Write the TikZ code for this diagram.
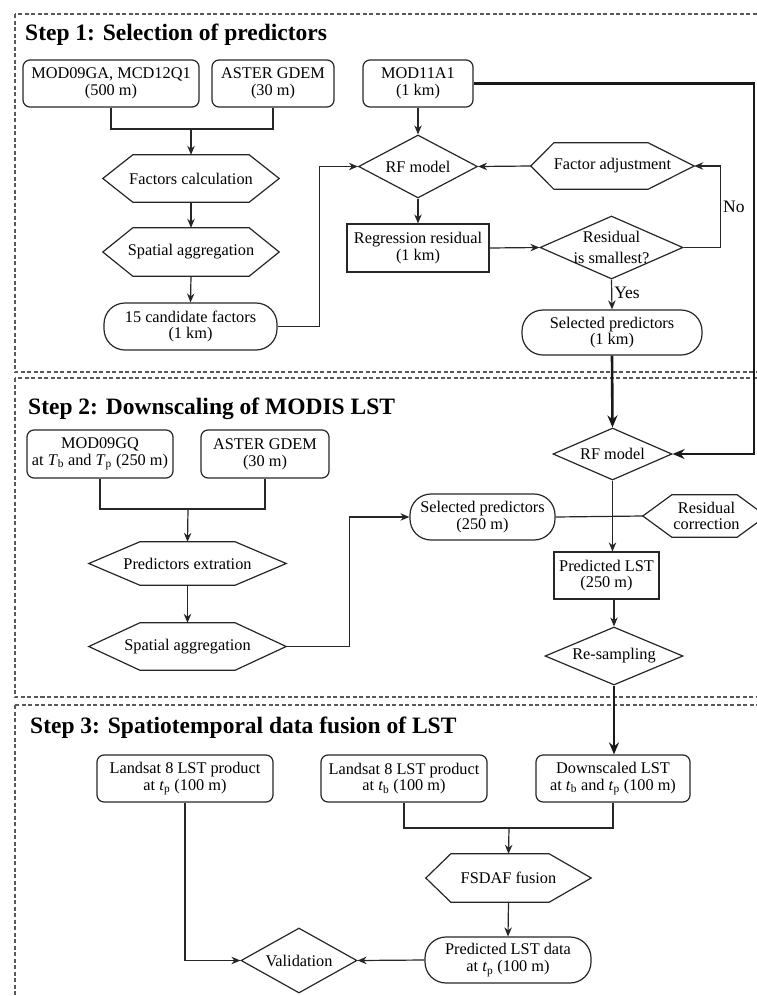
\documentclass[tikz,border=0pt]{standalone}
\usepackage{fontspec}
\setmainfont{Liberation Serif}
\usetikzlibrary{shapes.geometric,arrows.meta}
\newcommand\hexdraw[3]{\draw[ln] (#1.west) -- ([xshift=#2pt]#1.north west) -- ([xshift=-#3pt]#1.north east) -- (#1.east) -- ([xshift=-#3pt]#1.south east) -- ([xshift=#2pt]#1.south west) -- cycle;}
\begin{document}
\begin{tikzpicture}[x=1pt,y=-1pt,
  font=\fontsize{16.3}{16.8}\selectfont,
  ln/.style={line width=1.2pt, draw=black!85},
  arr/.style={ln, -{Stealth[length=9pt,width=7.5pt]}},
  tarr/.style={line width=2.6pt, draw=black!90, -{Stealth[length=12pt,width=10pt]}},
  rbox/.style={ln, draw, rectangle, rounded corners=7pt, align=center, inner sep=1pt},
  sbox/.style={ln, draw, rectangle, align=center, inner sep=1pt},
  stad/.style={ln, draw, rectangle, rounded corners=21pt, align=center, inner sep=1pt},
  hexn/.style={rectangle, align=center, inner sep=1pt},
  dia/.style={ln, draw, diamond, inner sep=0pt},
  ttl/.style={anchor=west, font=\fontsize{23.5}{26}\selectfont\bfseries, inner sep=0pt},
  lab/.style={font=\fontsize{17.5}{19}\selectfont, inner sep=2pt},
  frame/.style={draw=black!65, line width=1.2pt, dash pattern=on 4pt off 2.5pt}
]
\useasboundingbox (0,0) rectangle (757,996);

% frames
\draw[frame] (15,14) rectangle (759,372);
\draw[frame] (15,378) rectangle (759,697);
\draw[frame] (15,705) rectangle (759,1003);

% titles
\node[ttl] (t1) at (25,35) {Step 1: Selection of predictors};
\node[ttl] (t2) at (28,409) {Step 2: Downscaling of MODIS LST};
\node[ttl] (t3) at (30,728) {Step 3: Spatiotemporal data fusion of LST};

% ---------- Step 1 ----------
\node[rbox, minimum width=176pt, minimum height=47pt] (m09) at (111,83.5) {MOD09GA, MCD12Q1\\(500 m)};
\node[rbox, minimum width=122pt, minimum height=47pt] (ast1) at (273,83.5) {ASTER GDEM\\(30 m)};
\node[rbox, minimum width=110pt, minimum height=47pt] (m11) at (418,83.5) {MOD11A1\\(1 km)};
\node[hexn, minimum width=176pt, minimum height=47pt] (fc) at (191,178.5) {Factors calculation};
\hexdraw{fc}{30}{30}
\node[hexn, minimum width=176pt, minimum height=48pt] (sa1) at (191,252) {Spatial aggregation};
\hexdraw{sa1}{30}{30}
\node[stad, minimum width=173pt, minimum height=47pt] (cf) at (190.5,326.5) {15 candidate factors\\(1 km)};
\node[dia, minimum width=119pt, minimum height=63pt, label={center:RF model}] (rf1) at (418,166.5) {};
\node[hexn, minimum width=163pt, minimum height=46pt] (fa) at (612.5,166) {Factor adjustment};
\hexdraw{fa}{23}{46}
\node[sbox, minimum width=142pt, minimum height=48pt] (rr) at (418,248) {Regression residual\\(1 km)};
\node[dia, minimum width=143pt, minimum height=63pt, label={[align=center]center:Residual\\[4pt]is smallest?}] (rs) at (611.5,247.5) {};
\node[stad, minimum width=180pt, minimum height=45pt] (sp1) at (612,332.5) {Selected predictors\\(1 km)};

\coordinate (j1) at (191,129);
\draw[ln] (m09.south) |- (j1) -| (ast1.south);
\draw[arr] (j1) -- (fc.north);
\draw[arr] (fc.south) -- (sa1.north);
\draw[arr] (sa1.south) -- (cf.north);
\draw[arr] (cf.east) -- ++(42,0) |- (rf1.west);
\draw[arr] (m11.south) -- (rf1.north);
\draw[arr] (fa.west) -- (rf1.east);
\draw[arr] (rf1.south) -- (rr.north);
\draw[arr] (rr.east) -- (rs.west);
\draw[arr] (rs.east) -- ++(37,0) |- node[lab, pos=0.25, right] {No} (fa.east);
\draw[arr] (rs.south) -- node[lab, right, pos=0.45] {Yes} (sp1.north);

% ---------- Step 2 ----------
\node[rbox, minimum width=146pt, minimum height=48pt] (mgq) at (100,454) {MOD09GQ\\at \textit{T}\textsubscript{b} and \textit{T}\textsubscript{p} (250 m)};
\node[rbox, minimum width=128pt, minimum height=48pt] (ast2) at (265,454) {ASTER GDEM\\(30 m)};
\node[hexn, minimum width=197pt, minimum height=43pt] (pe) at (187.5,563.5) {Predictors extration};
\hexdraw{pe}{51}{51}
\node[hexn, minimum width=197pt, minimum height=47pt] (sa2) at (187.5,646.5) {Spatial aggregation};
\hexdraw{sa2}{51}{51}
\node[stad, minimum width=145pt, minimum height=46pt] (sp2) at (482.5,517) {Selected predictors\\(250 m)};
\node[dia, minimum width=119pt, minimum height=52pt, label={center:RF model}] (rf2) at (612.5,454) {};
\node[hexn, minimum width=123pt, minimum height=42pt] (rc) at (704.5,516) {\hspace*{4pt}Residual\\\hspace*{4pt}correction};
\hexdraw{rc}{29}{29}
\node[sbox, minimum width=105pt, minimum height=47pt] (pl) at (606.5,575.5) {Predicted LST\\(250 m)};
\node[dia, minimum width=138pt, minimum height=58pt, label={center:Re-sampling}] (re) at (614,656) {};

\draw[tarr] (m11.east) -- (754,83.5) |- (rf2.east);
\draw[tarr] (sp1.south) -- (rf2.north);
\coordinate (j2) at (188,509);
\draw[ln] (mgq.south) |- (j2) -| (ast2.south);
\draw[arr] (j2) -- (pe.north);
\draw[arr] (pe.south) -- (sa2.north);
\draw[arr] (sa2.east) -- ++(63,0) |- (sp2.west);
\draw[ln] (sp2.east) -- (rc.west);
\draw[arr] (rf2.south) -- (rf2.south |- pl.north);
\draw[arr] (re.north |- pl.south) -- (re.north);

% ---------- Step 3 ----------
\node[rbox, minimum width=176pt, minimum height=47pt] (lp) at (185,778.5) {Landsat 8 LST product\\at \textit{t}\textsubscript{p} (100 m)};
\node[rbox, minimum width=166pt, minimum height=47pt] (lb) at (404,778.5) {Landsat 8 LST product\\at \textit{t}\textsubscript{b} (100 m)};
\node[rbox, minimum width=154pt, minimum height=47pt] (dl) at (613,778.5) {Downscaled LST\\at \textit{t}\textsubscript{b} and \textit{t}\textsubscript{p} (100 m)};
\node[hexn, minimum width=165pt, minimum height=48pt] (ff) at (508.5,878) {FSDAF fusion};
\hexdraw{ff}{25}{42}
\node[stad, minimum width=166pt, minimum height=46pt] (pd) at (508,960) {Predicted LST data\\at \textit{t}\textsubscript{p} (100 m)};
\node[dia, minimum width=116pt, minimum height=65pt, label={center:Validation}] (va) at (299,960.5) {};

\draw[tarr] (re.south) -- (re.south |- dl.north);
\coordinate (j3) at (509,828);
\draw[ln] (lb.south) |- (j3) -| (dl.south);
\draw[arr] (j3) -- (ff.north);
\draw[arr] (ff.south) -- (pd.north);
\draw[arr] (pd.west) -- (va.east);
\draw[arr] (lp.south) |- (va.west);
\end{tikzpicture}
\end{document}
